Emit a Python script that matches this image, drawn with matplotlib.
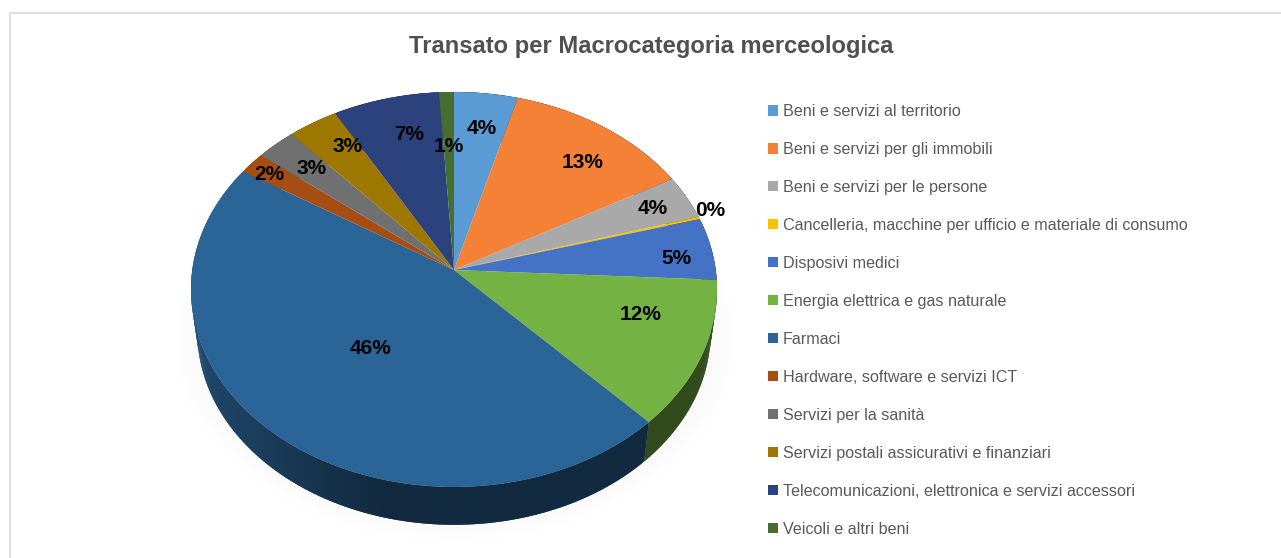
import numpy as np
import matplotlib
matplotlib.use('Agg')
import matplotlib.pyplot as plt
from matplotlib.colors import to_rgb
from matplotlib.patches import Ellipse
from matplotlib.transforms import Transform

plt.rcParams['font.family'] = ['Liberation Sans', 'DejaVu Sans']

categories = ['Beni e servizi al territorio', 'Beni e servizi per gli immobili',
              'Beni e servizi per le persone',
              'Cancelleria, macchine per ufficio e materiale di consumo',
              'Disposivi medici', 'Energia elettrica e gas naturale', 'Farmaci',
              'Hardware, software e servizi ICT', 'Servizi per la sanità',
              'Servizi postali assicurativi e finanziari',
              'Telecomunicazioni, elettronica e servizi accessori', 'Veicoli e altri beni']
values = [4.3, 12.6, 3.6, 0.2, 5.1, 12.05, 46.07, 1.8, 2.7, 3.4, 7.2, 1.0]
colors = ['#5B9BD5', '#F58136', '#A9A9A9', '#FFC000', '#4472C4', '#75B244',
          '#2B6496', '#A64D14', '#707070', '#9E7700', '#2B427D', '#476E30']
label_xy = [(482, 129), (583, 163), (653, 208), (710, 211), (676, 259), (641, 315),
            (371, 348), (269, 174), (312, 169), (348, 147), (409, 134), (449, 146)]

title = 'Transato per Macrocategoria merceologica'

# pie geometry in pixels, the disc is seen in perspective
const_cx = 454.0
const_cy = 270.0
const_a = 261.7
const_b = 195.6
const_k = 0.0987
# lower rim of the side wall: a slightly smaller ellipse further down
const_rim_top = 289.5
const_rim_low = 332.0
const_rim_scale = 0.976


def project(x, y):
    w = 1 + const_k * y
    return const_cx + const_a * x / w, const_cy - const_b * y / w


class Persp(Transform):
    input_dims = 2
    output_dims = 2

    def transform_non_affine(self, values):
        px, py = project(values[:, 0], values[:, 1])
        return np.column_stack([px, py])


fig = plt.figure(figsize=(12.81, 5.58), dpi=100)
ax = fig.add_axes([0, 0, 1, 1])

# soft shadow under the pie
for i in range(12):
    ax.add_patch(Ellipse((455, 338), 2 * (280 - 4 * i), 2 * (203 - 4 * i), fc='black', ec='none', alpha=0.005))

# side wall, strips overlap so no seams show, covered afterwards by the top face
edges = np.cumsum([0] + values) / np.sum(values) * 2 * np.pi
for idx in range(len(values)):
    n = max(2, int((edges[idx + 1] - edges[idx]) / 0.01))
    th = np.linspace(edges[idx], edges[idx + 1], n)
    base = np.array(to_rgb(colors[idx]))
    for j in range(n - 1):
        mid = np.degrees((th[j] + th[j + 1]) / 2)
        shade = np.interp(mid, [0, 195, 225, 270, 360], [0.42, 0.42, 0.62, 0.78, 0.78])
        xa, ya = project(np.sin(th[j:j + 3]), np.cos(th[j:j + 3]))
        xb = const_cx + const_rim_scale * (xa - const_cx)
        yb = const_rim_low + const_rim_scale * (ya - const_rim_top)
        ax.fill(np.r_[xa, xb[::-1]], np.r_[ya, yb[::-1]], color=base * shade, lw=0)

wedges, _ = ax.pie(values, colors=colors, startangle=90, counterclock=False,
                   wedgeprops={'linewidth': 0})
for w in wedges:
    w.set_transform(Persp() + ax.transData)

ax.set_aspect('auto')
ax.set_xlim(0, 1281)
ax.set_ylim(558, 0)
ax.axis('off')

for idx in range(len(values)):
    ax.text(label_xy[idx][0], label_xy[idx][1], '{}%'.format(round(values[idx])),
            ha='center', va='center', fontsize=15, fontweight='bold', color='black')

ax.text(651.5, 47, title, ha='center', va='center', fontsize=17.15, fontweight='bold', color='#505050')

# chart frame, only top and left are visible in the crop
ax.plot([10, 10, 1281], [558, 13, 13], color='#D9D9D9', lw=1.2)

ax.legend(wedges, categories, loc='upper left', bbox_to_anchor=(768 / 1281, 1 - 104 / 558),
          frameon=False, fontsize=11.65, labelcolor='#595959', handlelength=0.62, handleheight=0.62,
          handletextpad=0.3, labelspacing=1.42, borderpad=0, borderaxespad=0)

fig.savefig('out.png', dpi=100)
